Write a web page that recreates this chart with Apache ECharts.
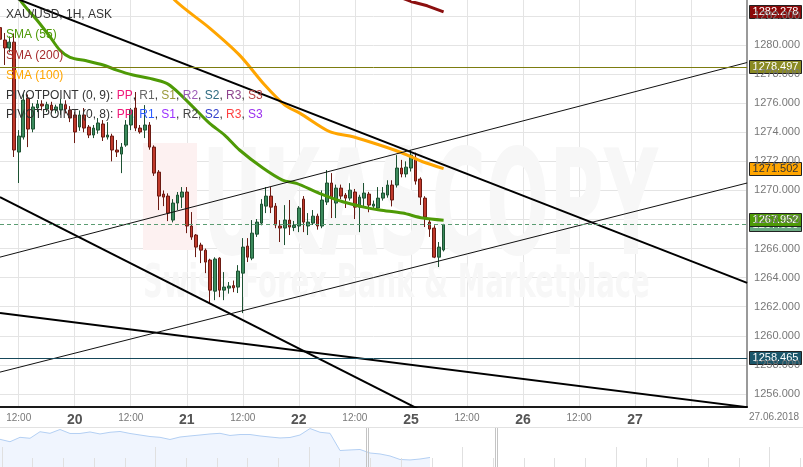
<!DOCTYPE html>
<html><head><meta charset="utf-8">
<script src="https://cdn.jsdelivr.net/npm/echarts@6/dist/echarts.min.js"></script>
<style>html,body{margin:0;padding:0;background:#fff}#c{width:803px;height:467px}</style>
</head><body><div id="c"></div>
<script>
// x = trading hour index since 19 Jun 2018 00:00 (weekend removed)
const dayLabels = ['19','20','21','22','25','26','27'];
const xTicks = [12,24,36,48,60,72,84,96,108,120,132,144,156];
const yTicks = [1256,1258,1260,1262,1264,1266,1268,1270,1272,1274,1276,1278,1280,1282];
const endDateLabel = '27.06.2018';

// [hour, open, close, low, high]
const candles = [
[8,1281.2,1280.4,1279.7,1282.2],[9,1280.35,1279.80,1278.63,1280.83],[10,1279.8,1280.2,1279.5,1280.6],
[11,1280.2,1272.78,1272.30,1280.8],[12,1272.64,1273.74,1270.51,1274.15],[13,1273.67,1276.22,1273.5,1276.70],
[14,1276.36,1274.22,1272.98,1276.6],[15,1274.22,1275.74,1274.0,1276.0],[16,1275.67,1275.94,1275.39,1276.22],
[17,1275.94,1275.81,1275.5,1276.2],[18,1275.6,1275.9,1275.4,1276.1],[19,1275.87,1275.53,1275.3,1276.1],
[20,1275.53,1275.74,1275.3,1275.9],[21,1275.53,1275.94,1275.2,1276.3],[22,1275.9,1275.6,1275.3,1276.2],
[23,1275.53,1274.98,1274.7,1275.8],[24,1275.19,1274.02,1273.26,1275.4],[25,1274.36,1275.19,1274.1,1275.5],
[26,1275.19,1274.29,1274.0,1275.67],[27,1274.36,1273.81,1273.6,1274.5],[28,1273.81,1274.29,1273.6,1274.5],
[29,1274.15,1274.64,1273.9,1274.98],[30,1274.57,1273.67,1273.4,1274.84],[31,1273.67,1273.81,1273.5,1274.70],
[32,1273.74,1272.78,1272.0,1273.9],[33,1272.78,1272.64,1272.30,1273.47],[34,1272.50,1272.98,1271.19,1273.26],
[35,1273.12,1274.50,1273.0,1274.84],[36,1274.50,1275.53,1274.15,1275.67],[37,1275.67,1274.29,1274.08,1276.77],
[38,1274.29,1274.02,1273.9,1274.5],[39,1274.15,1274.50,1273.60,1275.87],[40,1274.50,1272.98,1272.8,1274.7],
[41,1272.98,1271.19,1271.0,1273.1],[42,1271.26,1269.61,1268.65,1271.4],[43,1269.75,1269.54,1268.92,1270.0],
[44,1269.61,1268.44,1267.89,1269.8],[45,1267.96,1269.13,1267.8,1269.4],[46,1269.13,1269.68,1268.65,1269.89],
[47,1269.54,1269.89,1268.79,1270.23],[48,1269.89,1267.55,1267.06,1270.23],[49,1267.55,1266.79,1266.6,1268.51],
[50,1266.93,1266.10,1265.41,1267.0],[51,1266.24,1265.89,1265.00,1266.4],[52,1265.89,1265.07,1264.31,1266.0],
[53,1265.21,1263.14,1262.25,1265.3],[54,1263.07,1265.28,1262.45,1265.4],[55,1265.34,1263.14,1262.66,1265.4],
[56,1263.14,1263.35,1262.45,1264.38],[57,1263.28,1263.42,1262.9,1263.7],[58,1263.45,1263.3,1263.0,1263.8],
[59,1263.35,1264.45,1262.94,1264.86],[60,1264.31,1266.10,1261.56,1266.72],[61,1266.17,1265.41,1265.07,1266.72],
[62,1265.34,1267.06,1265.2,1267.96],[63,1266.99,1267.82,1266.8,1268.03],[64,1267.75,1269.06,1267.6,1269.40],
[65,1268.92,1269.61,1268.44,1270.23],[66,1269.61,1268.85,1268.44,1270.23],[67,1268.92,1267.62,1267.4,1269.13],
[68,1267.55,1267.41,1266.45,1267.96],[69,1267.41,1267.96,1266.24,1268.99],[70,1267.96,1267.48,1266.93,1269.34],
[71,1267.45,1267.6,1267.2,1267.9],[72,1267.55,1268.79,1267.13,1268.92],[73,1269.40,1267.82,1267.13,1269.61],
[74,1267.55,1267.82,1266.93,1268.44],[75,1267.75,1268.23,1267.62,1268.65],[76,1268.23,1267.55,1267.3,1268.4],
[77,1267.55,1269.34,1267.4,1270.0],[78,1269.20,1270.51,1269.0,1271.40],[79,1270.51,1269.47,1268.10,1271.19],
[80,1269.13,1270.16,1268.1,1270.4],[81,1270.16,1269.61,1269.4,1270.4],[82,1269.68,1269.47,1268.79,1269.82],
[83,1269.47,1270.02,1269.3,1270.5],[84,1269.89,1268.85,1268.03,1270.1],[85,1268.85,1269.54,1267.13,1269.7],
[86,1269.47,1269.82,1268.79,1270.51],[87,1269.75,1268.99,1268.5,1269.9],[88,1268.92,1269.06,1268.7,1269.3],
[89,1268.79,1269.47,1268.6,1270.23],[90,1269.47,1269.82,1269.3,1270.23],[91,1269.68,1270.37,1269.5,1270.7],
[92,1270.37,1269.34,1268.9,1270.7],[93,1270.37,1271.54,1270.2,1272.43],[94,1271.54,1271.13,1270.9,1272.1],
[95,1271.13,1271.6,1270.9,1272.0],[96,1271.54,1272.43,1271.3,1272.78],[97,1272.23,1270.64,1270.4,1272.6],
[98,1270.78,1269.54,1269.0,1270.9],[99,1269.47,1268.17,1267.48,1269.6],[100,1267.82,1267.34,1266.8,1268.0],
[101,1267.41,1265.41,1265.34,1267.6],[102,1265.41,1266.10,1264.73,1266.45],[103,1265.9,1267.65,1265.8,1267.7]
];

const sma55 = [[10,1284.6],[12.3,1283.1],[15.9,1281.72],[18.7,1280.57],[20.8,1279.66],[23,1279.16],[26.5,1278.92],
[30.1,1278.63],[33,1278.28],[36.5,1277.94],[40.1,1277.71],[43.7,1277.37],[45.8,1276.85],[50,1275.53],[52.9,1274.61],
[56.1,1273.81],[59.3,1272.78],[64.3,1271.54],[68.5,1270.71],[71.5,1270.48],[76.4,1269.80],[81.4,1269.22],
[85.7,1268.87],[89.3,1268.65],[94.2,1268.44],[98.5,1268.10],[103,1267.952]];
const sma100 = [[44,1284.0],[45.4,1283.10],[52.9,1281.17],[59.3,1279.31],[64.7,1277.25],[69,1275.87],[72.2,1275.32],
[78.6,1274.04],[82.9,1273.74],[87.1,1273.35],[92.9,1272.73],[95.7,1272.36],[98.5,1271.97],[103,1271.502]];
const sma200 = [[92,1283.5],[96,1283.0],[99.5,1282.7],[103,1282.278]];

const trendA = [[8,1283.64],[168,1263.64]];
const trendB = [[8,1269.54],[100,1254.57]];
const trendC = [[8,1261.56],[168,1255.09]];
const channelUpper = [[8,1265.41],[168,1278.80]];
const channelLower = [[8,1257.50],[168,1270.51]];

const levelOlive = 1278.497;
const levelTeal = 1258.465;
const lastPrice = 1267.65;

const navValues = [1284.6,1281.6,1287.1,1285.9,1294.1,1292.1,1296.9,1291.9,1291.9,1293.8,1291.3,1293.4,1294.4,
1291.9,1290,1288.1,1287.1,1284.4,1287.5,1288.8,1290,1291.3,1292.1,1289.4,1290.6,1290.6,1288.8,1287.5,1286.3,
1286.9,1290,1298.1,1293.4,1292.1,1270.6,1271.3,1271.9,1267.5,1266.3,1263.8,1259.4,1258.8,1260,1261.9];

const chart = echarts.init(document.getElementById('c'));
const FONT = '"Liberation Sans", Arial, sans-serif';

function lineSeries(data, color, width, extra) {
  return Object.assign({type:'line', data, xAxisIndex:0, yAxisIndex:0, symbol:'none', silent:true,
    lineStyle:{color, width}, z:4, animation:false}, extra||{});
}

chart.setOption({
  animation:false,
  backgroundColor:'#fff',
  grid:[{left:0,right:55,top:0,bottom:60},{left:0,right:0,top:427,height:40}],
  xAxis:[{
    type:'value', gridIndex:0, min:8, max:168,
    axisLine:{show:true, onZero:false, lineStyle:{color:'#1a1a1a', width:2}},
    axisTick:{show:false, customValues:xTicks},
    splitLine:{show:true, lineStyle:{color:'#e4e4e4', width:1}},
    axisLabel:{customValues:xTicks, margin:6, showMaxLabel:false,
      formatter:function(v){ if (v % 24 === 0) return '{d|' + dayLabels[v/24] + '}'; return '{h|12:00}'; },
      rich:{d:{fontSize:14, fontWeight:'bold', color:'#555', fontFamily:FONT},
            h:{fontSize:10, color:'#777', fontFamily:FONT}}}
  },{
    type:'value', gridIndex:1, min:0, max:80.3, show:false
  }],
  yAxis:[{
    type:'value', gridIndex:0, position:'right', min:1255.1, max:1283.1,
    axisLine:{show:true, lineStyle:{color:'#9a9a9a', width:2}},
    axisTick:{show:false, customValues:yTicks},
    splitLine:{show:true, lineStyle:{color:'#e4e4e4', width:1}},
    axisLabel:{customValues:yTicks, margin:7, color:'#777', fontSize:11, fontFamily:FONT,
      formatter:function(v){return v.toFixed(3);}}
  },{
    type:'value', gridIndex:1, min:1250, max:1300, show:false
  }],
  series:[
    {type:'candlestick', xAxisIndex:0, yAxisIndex:0, data:candles, encode:{x:0, y:[1,2,3,4]},
     barWidth:3.2, z:2, silent:true,
     itemStyle:{color:'#3b8a5c', color0:'#c0392b', borderColor:'#1d5232', borderColor0:'#6b1a12', borderWidth:1}},
    lineSeries(sma200, '#8b0f0f', 3),
    lineSeries(sma100, '#ffa500', 3, {smooth:0.3}),
    lineSeries(sma55, '#4e9a06', 3, {smooth:0.3}),
    lineSeries(trendA, '#000', 2),
    lineSeries(trendB, '#000', 2),
    lineSeries(trendC, '#000', 2),
    lineSeries(channelUpper, '#111', 1),
    lineSeries(channelLower, '#111', 1),
    {type:'line', xAxisIndex:0, yAxisIndex:0, data:[], silent:true, z:3,
     markLine:{silent:true, symbol:'none', animation:false, label:{show:false},
       data:[
         {yAxis:levelOlive, lineStyle:{color:'#7c7c10', width:1, type:'solid'}},
         {yAxis:levelTeal, lineStyle:{color:'#16485a', width:1, type:'solid'}},
         {yAxis:lastPrice, lineStyle:{color:'#5b9c72', width:1, type:[4,3]}}
       ]}},
    {type:'line', xAxisIndex:1, yAxisIndex:1, data:navValues.map((v,i)=>[i,v]), symbol:'none', silent:true,
     lineStyle:{color:'#b3cff3', width:1}, areaStyle:{color:'#e9f1fd', origin:'start'}, z:1}
  ]
});

// value labels on the right axis, positioned through the chart's own scale
function yOf(v){ return chart.convertToPixel({xAxisIndex:0, yAxisIndex:0}, [168, v])[1]; }
function tag(v, bg, fg){
  const y = yOf(v);
  return {type:'group', z:100, children:[
    {type:'rect', shape:{x:749.5, y:Math.round(y)-6.5, width:52, height:13}, style:{fill:bg, stroke:'#222', lineWidth:1}},
    {type:'text', x:775.5, y:Math.round(y), style:{text:v.toFixed(3), fill:fg, font:'11px ' + FONT, align:'center', verticalAlign:'middle'}}
  ]};
}

const legend = [
  {type:'text', left:6, top:9, z:100, style:{text:'XAU/USD, 1H, ASK', fill:'#333', font:'12px ' + FONT}},
  {type:'text', left:6, top:29, z:100, style:{text:'SMA (55)', fill:'#4e9a06', font:'12px ' + FONT}},
  {type:'text', left:6, top:50, z:100, style:{text:'SMA (200)', fill:'#a52a2a', font:'12px ' + FONT}},
  {type:'text', left:6, top:70, z:100, style:{text:'SMA (100)', fill:'#ffa500', font:'12px ' + FONT}},
  {type:'text', left:6, top:90, z:100, style:{
    text:'{a|PIVOTPOINT (0, 9): }{pp|PP}{a|, }{r1|R1}{a|, }{s1|S1}{a|, }{r2|R2}{a|, }{s2|S2}{a|, }{r3|R3}{a|, }{s3|S3}',
    font:'12px ' + FONT,
    rich:{a:{fill:'#333',fontSize:12,fontFamily:FONT}, pp:{fill:'#f0197a',fontSize:12,fontFamily:FONT}, r1:{fill:'#666',fontSize:12,fontFamily:FONT},
          s1:{fill:'#9a9a3a',fontSize:12,fontFamily:FONT}, r2:{fill:'#9b59b6',fontSize:12,fontFamily:FONT}, s2:{fill:'#2e6b80',fontSize:12,fontFamily:FONT},
          r3:{fill:'#8e448e',fontSize:12,fontFamily:FONT}, s3:{fill:'#b44040',fontSize:12,fontFamily:FONT}}}},
  {type:'text', left:6, top:109, z:100, style:{
    text:'{a|PIVOTPOINT (0, 8): }{pp|PP}{a|, }{r1|R1}{a|, }{s1|S1}{a|, }{r2|R2}{a|, }{s2|S2}{a|, }{r3|R3}{a|, }{s3|S3}',
    font:'12px ' + FONT,
    rich:{a:{fill:'#333',fontSize:12,fontFamily:FONT}, pp:{fill:'#f0197a',fontSize:12,fontFamily:FONT}, r1:{fill:'#2b5cff',fontSize:12,fontFamily:FONT},
          s1:{fill:'#9b30ff',fontSize:12,fontFamily:FONT}, r2:{fill:'#444',fontSize:12,fontFamily:FONT}, s2:{fill:'#3340cc',fontSize:12,fontFamily:FONT},
          r3:{fill:'#ff4040',fontSize:12,fontFamily:FONT}, s3:{fill:'#9b30ee',fontSize:12,fontFamily:FONT}}}}
];

const watermark = [
  {type:'rect', z:0, shape:{x:143, y:143, width:54, height:107}, style:{fill:'#fdf1f1'}},
  {type:'text', z:0, x:202, y:143, scaleX:0.51, style:{text:'UKASCOPY', fill:'#f7f7f7', font:'bold 146px "DejaVu Sans"', verticalAlign:'top'}},
  {type:'text', z:0, x:143, y:262, scaleX:0.6, style:{text:'Swiss Forex Bank & Marketplace', fill:'#f7f7f7', font:'bold 46px "DejaVu Sans"', verticalAlign:'top'}}
];

const nav = [
  {type:'line', z:5, shape:{x1:0, y1:427.5, x2:803, y2:427.5}, style:{stroke:'#e2e2e2', lineWidth:1}}
];
for (let k = 0; k < 27; k++) {
  const x = Math.round(1.7 + 30.7 * k) + 0.5;
  const tall = (k % 5 === 0);
  nav.push({type:'line', z:5, shape:{x1:x, y1: tall ? 447 : 458, x2:x, y2:467}, style:{stroke:'#e0e0e0', lineWidth:1}});
}
[366.5, 368.5, 495.5, 497.5].forEach(x => nav.push({type:'line', z:6, shape:{x1:x, y1:428, x2:x, y2:467}, style:{stroke:'#c4c4c4', lineWidth:1}}));

const tags = [
  tag(lastPrice, '#6aaa82', '#fff'),
  tag(levelTeal, '#1b566a', '#fff'),
  tag(levelOlive, '#8a8a22', '#fff'),
  tag(1271.502, '#ffa500', '#333'),
  tag(1282.278, '#8b0a0a', '#fff'),
  tag(1267.952, '#4e9a06', '#fff')
];

const dateTxt = {type:'text', z:100, x:749, y:417, style:{text:endDateLabel, fill:'#777', font:'10px ' + FONT, verticalAlign:'middle'}};

chart.setOption({graphic: watermark.concat(nav, legend, tags, [dateTxt])});
</script>
</body></html>
